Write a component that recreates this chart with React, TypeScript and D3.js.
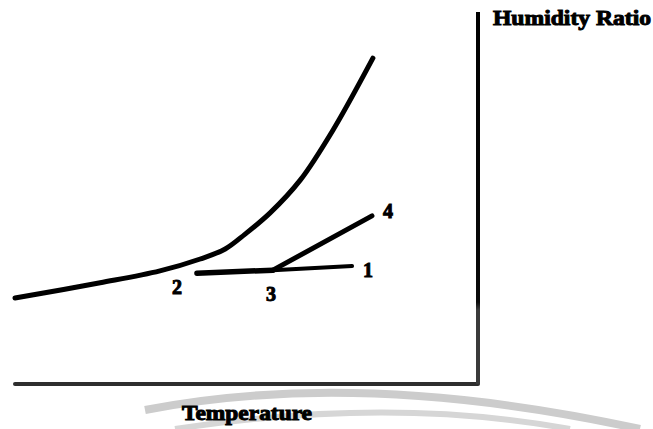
import React from "react";
import * as d3 from "d3";

// Saturation curve (temperature, humidity ratio) in arbitrary chart units 0..100
const satTemp = [0, 18.4, 31.3, 40.0, 45.4, 49.7, 55.1, 61.6, 68.7, 77.3];
const satHum = [23.1, 27.2, 30.4, 33.6, 36.3, 40.3, 46.0, 54.8, 68.3, 87.6];

// State points
const pointNames = ["1", "2", "3", "4"];
const pointTemp = [72.8, 39.3, 55.7, 77.1];
const pointHum = [31.7, 29.8, 30.6, 45.2];

// Process segments (by point name)
const segments: [string, string, number][] = [
  ["2", "3", 5.5],
  ["3", "1", 4],
  ["3", "4", 5],
];

const xLabel = "Temperature";
const yLabel = "Humidity Ratio";

const W = 653;
const H = 429;

export default function App() {
  const x = d3.scaleLinear().domain([0, 100]).range([15, 478]);
  const y = d3.scaleLinear().domain([0, 100]).range([384, 12]);

  const satData = satTemp.map((t, i) => [t, satHum[i]] as [number, number]);
  const line = d3
    .line<[number, number]>()
    .x((d) => x(d[0]))
    .y((d) => y(d[1]))
    .curve(d3.curveCatmullRom.alpha(0.5));

  const pt = (name: string) => {
    const i = pointNames.indexOf(name);
    return [x(pointTemp[i]), y(pointHum[i])];
  };

  const labelOffsets: Record<string, [number, number]> = {
    "1": [16, 4],
    "2": [-20, 14],
    "3": [-2, 24],
    "4": [16, -5],
  };

  const serif = "'Liberation Serif', 'Times New Roman', serif";

  return (
    <svg
      width={W}
      height={H}
      style={{ position: "fixed", left: 0, top: 0, background: "#fff" }}
    >
      <defs>
        <linearGradient id="yaxisGrad" gradientUnits="userSpaceOnUse" x1="0" y1={y(100)} x2="0" y2={y(0)}>
          <stop offset="0" stopColor="#000" />
          <stop offset="0.78" stopColor="#0a0a0a" />
          <stop offset="0.8" stopColor="#3a3a3a" />
          <stop offset="1" stopColor="#3a3a3a" />
        </linearGradient>
      </defs>

      {/* faint watermark arcs */}
      <path d="M145,410 Q360,368 640,429" fill="none" stroke="#cccccc" strokeWidth={8} />
      <path d="M175,429 Q390,396 570,429" fill="none" stroke="#d6d6d6" strokeWidth={6} />

      {/* axes */}
      <line x1={x(0)} y1={y(0)} x2={x(100)} y2={y(0)} stroke="#2e2e2e" strokeWidth={4} strokeLinecap="round" />
      <line x1={x(100)} y1={y(100)} x2={x(100)} y2={y(0)} stroke="url(#yaxisGrad)" strokeWidth={4} />

      {/* saturation curve */}
      <path
        d={line(satData) || ""}
        fill="none"
        stroke="#000"
        strokeWidth={5}
        strokeLinecap="round"
        strokeLinejoin="round"
      />

      {/* process lines */}
      {segments.map(([a, b, w], i) => {
        const [x1, y1] = pt(a);
        const [x2, y2] = pt(b);
        return (
          <line key={i} x1={x1} y1={y1} x2={x2} y2={y2} stroke="#000" strokeWidth={w} strokeLinecap="round" />
        );
      })}

      {/* point labels */}
      {pointNames.map((n) => {
        const [px, py] = pt(n);
        const [dx, dy] = labelOffsets[n];
        return (
          <text
            key={n}
            x={px + dx}
            y={py + dy}
            textAnchor="middle"
            dominantBaseline="central"
            fontFamily={serif}
            fontWeight="bold"
            fontSize={20}
            fill="#000"
            stroke="#000"
            strokeWidth={1}
          >
            {n}
          </text>
        );
      })}

      {/* axis titles */}
      <text
        x={493}
        y={25}
        fontFamily={serif}
        fontWeight="bold"
        fontSize={21}
        textLength={158}
        lengthAdjust="spacingAndGlyphs"
        fill="#000"
        stroke="#000"
        strokeWidth={1}
      >
        {yLabel}
      </text>
      <text
        x={182}
        y={420}
        fontFamily={serif}
        fontWeight="bold"
        fontSize={20}
        textLength={130}
        lengthAdjust="spacingAndGlyphs"
        fill="#000"
        stroke="#000"
        strokeWidth={1}
      >
        {xLabel}
      </text>
    </svg>
  );
}
